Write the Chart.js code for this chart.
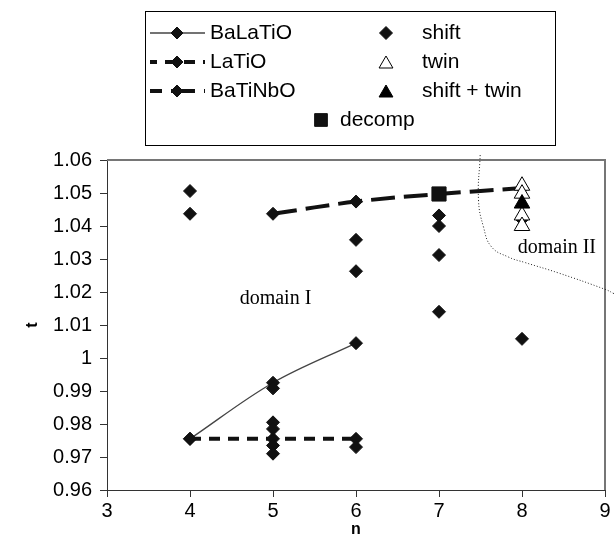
<!DOCTYPE html>
<html><head><meta charset="utf-8">
<script src="https://cdn.jsdelivr.net/npm/chart.js@4.4.1/dist/chart.umd.min.js"></script>
<style>html,body{margin:0;padding:0;background:#fff;}#wrap{width:616px;height:536px;}</style>
</head><body><div id="wrap"><canvas id="c" width="616" height="536"></canvas></div>
<script>
// ---- data (n = x, t = y) ----
const baLaTiO_n = [4, 5, 6];
const baLaTiO_t = [0.9755, 0.9925, 1.0045];
const laTiO_n = [4, 5, 6];
const laTiO_t = [0.9755, 0.9755, 0.9755];
const baTiNbO_n = [5, 6, 7, 8];
const baTiNbO_t = [1.0437, 1.0474, 1.0497, 1.0515];
const shift_n = [4, 4, 5, 5, 5, 5, 5, 6, 6, 6, 7, 7, 7, 7, 8, 8];
const shift_t = [1.0506, 1.0437, 0.9908, 0.9805, 0.9785, 0.9735, 0.9710, 1.0358, 1.0263, 0.9730, 1.0432, 1.0400, 1.0312, 1.0140, 1.0058, 1.042];
const twin_n = [8, 8, 8, 8];
const twin_t = [1.0522, 1.0498, 1.0432, 1.0400];
const shiftTwin_n = [8];
const shiftTwin_t = [1.0468];
const decomp_n = [7];
const decomp_t = [1.0497];
const boundary_n = [7.496, 7.476, 7.536, 7.632, 7.836, 8.04, 8.436, 9.012, 9.108];
const boundary_t = [1.0615, 1.0479, 1.0397, 1.0337, 1.0306, 1.0289, 1.0258, 1.0207, 1.0195];
const xTicks = [3, 4, 5, 6, 7, 8, 9];
const yTicks = [0.96, 0.97, 0.98, 0.99, 1.00, 1.01, 1.02, 1.03, 1.04, 1.05, 1.06];
const legendLines = ['BaLaTiO', 'LaTiO', 'BaTiNbO'];
const legendMarks = ['shift', 'twin', 'shift + twin'];
const legendExtra = ['decomp'];
const domainLabels = ['domain I', 'domain II'];
const domainLabel_n = [5.03, 8.42];
const domainLabel_t = [1.018, 1.0334];

const zip = (a, b) => a.map((v, i) => ({x: v, y: b[i]}));
const SANS = "'Liberation Sans', Arial, sans-serif";
const SERIF = "'Liberation Serif', 'Times New Roman', serif";
Chart.defaults.font.family = SANS;
Chart.defaults.color = '#000';

const framePlugin = {
  id: 'frame',
  beforeDatasetsDraw(chart) {
    const {ctx, chartArea: a} = chart;
    ctx.save();
    ctx.strokeStyle = '#767676'; ctx.lineWidth = 2;
    ctx.beginPath(); ctx.moveTo(a.left, a.top); ctx.lineTo(a.right, a.top); ctx.lineTo(a.right, a.bottom); ctx.stroke();
    ctx.restore();
  }
};

function marker(ctx, d, x, y, r) {
  ctx.save();
  ctx.setLineDash([]);
  ctx.fillStyle = d.pointBackgroundColor;
  ctx.strokeStyle = d.pointBorderColor;
  ctx.lineWidth = d.pointBorderWidth;
  Chart.helpers.drawPoint(ctx, {pointStyle: d.pointStyle, radius: r, rotation: 0, borderWidth: d.pointBorderWidth}, x, y);
  ctx.restore();
}

const legendPlugin = {
  id: 'boxLegend',
  afterDraw(chart) {
    const ctx = chart.ctx;
    const ds = chart.data.datasets;
    const find = l => ds.find(d => d.label === l);
    ctx.save();
    ctx.strokeStyle = '#000'; ctx.lineWidth = 1;
    ctx.strokeRect(145.5, 11.5, 410, 134);
    ctx.font = '21px ' + SANS; ctx.fillStyle = '#000';
    ctx.textBaseline = 'middle'; ctx.textAlign = 'left';
    const rows = [33, 62, 91, 120];
    const offs = [0, 4, 12];
    legendLines.forEach((lab, i) => {
      const d = find(lab), y = rows[i];
      ctx.save();
      ctx.strokeStyle = d.borderColor; ctx.lineWidth = d.borderWidth;
      ctx.setLineDash(d.borderDash || []); ctx.lineDashOffset = offs[i];
      ctx.beginPath(); ctx.moveTo(150, y); ctx.lineTo(205, y); ctx.stroke();
      ctx.restore();
      marker(ctx, d, 177, y, 6);
      ctx.fillStyle = '#000';
      ctx.fillText(lab, 210, y);
    });
    legendMarks.forEach((lab, i) => {
      const d = find(lab), y = rows[i];
      marker(ctx, d, 386, y + (d.pointStyle === 'triangle' ? 2 : 0), d.pointStyle === 'triangle' ? 8 : 6.5);
      ctx.fillStyle = '#000';
      ctx.fillText(lab, 422, y);
    });
    legendExtra.forEach((lab) => {
      const d = find(lab);
      marker(ctx, d, 321, rows[3], 9);
      ctx.fillStyle = '#000';
      ctx.fillText(lab, 340, rows[3]);
    });
    ctx.restore();
  }
};

const labelPlugin = {
  id: 'domains',
  afterDatasetsDraw(chart) {
    const {ctx, scales: {x, y}} = chart;
    ctx.save();
    ctx.font = '20px ' + SERIF; ctx.fillStyle = '#000';
    ctx.textAlign = 'center'; ctx.textBaseline = 'middle';
    domainLabels.forEach((t, i) => ctx.fillText(t, x.getPixelForValue(domainLabel_n[i]), y.getPixelForValue(domainLabel_t[i])));
    ctx.restore();
  }
};

const diamond = {pointStyle: 'rectRot', pointRadius: 6.5, pointBackgroundColor: '#111', pointBorderColor: '#111', pointBorderWidth: 1};

new Chart(document.getElementById('c'), {
  type: 'scatter',
  data: {
    datasets: [
      {label: 'boundary', data: zip(boundary_n, boundary_t), showLine: true, borderColor: '#222', borderWidth: 1, borderDash: [1, 2], pointRadius: 0, tension: 0.45, clip: false, order: 10},
      Object.assign({label: 'LaTiO', data: zip(laTiO_n, laTiO_t), showLine: true, borderColor: '#111', borderWidth: 4, borderDash: [11, 8], tension: 0, order: 9}, diamond),
      Object.assign({label: 'BaLaTiO', data: zip(baLaTiO_n, baLaTiO_t), showLine: true, borderColor: '#444', borderWidth: 1.3, tension: 0.35, order: 8}, diamond),
      Object.assign({label: 'BaTiNbO', data: zip(baTiNbO_n, baTiNbO_t), showLine: true, borderColor: '#111', borderWidth: 4, borderDash: [24, 9], tension: 0.35, order: 7}, diamond),
      Object.assign({label: 'shift', data: zip(shift_n, shift_t), showLine: false, order: 6}, diamond),
      {label: 'decomp', data: zip(decomp_n, decomp_t), showLine: false, pointStyle: 'rect', pointRadius: 10, pointBackgroundColor: '#111', pointBorderColor: '#111', pointBorderWidth: 1, order: 5},
      {label: 'twin', data: zip(twin_n, twin_t), showLine: false, pointStyle: 'triangle', pointRadius: 9, pointBackgroundColor: '#fff', pointBorderColor: '#000', pointBorderWidth: 1, order: 4},
      {label: 'shift + twin', data: zip(shiftTwin_n, shiftTwin_t), showLine: false, pointStyle: 'triangle', pointRadius: 9, pointBackgroundColor: '#000', pointBorderColor: '#000', pointBorderWidth: 1, order: 3}
    ]
  },
  options: {
    responsive: false, animation: false, events: [],
    layout: {padding: {top: 160, right: 8, left: 0, bottom: 0}},
    plugins: {legend: {display: false}, tooltip: {enabled: false}},
    scales: {
      x: {
        type: 'linear', min: 3, max: 9,
        afterBuildTicks: s => { s.ticks = xTicks.map(v => ({value: v})); },
        afterFit: s => { s.height = 46; },
        grid: {drawOnChartArea: false, drawTicks: true, tickLength: 7, color: '#333', lineWidth: 1},
        border: {color: '#333', width: 1},
        ticks: {font: {size: 20}, padding: 2, color: '#000', maxRotation: 0, callback: v => String(v)},
        title: {display: true, text: 'n', font: {size: 16, weight: 'bold', lineHeight: 1}, padding: {top: 0, bottom: -2}, color: '#000'}
      },
      y: {
        type: 'linear', min: 0.96, max: 1.06,
        afterBuildTicks: s => { s.ticks = yTicks.map(v => ({value: v})); },
        afterFit: s => { s.width = 107; },
        grid: {drawOnChartArea: false, drawTicks: true, tickLength: 7, color: '#333', lineWidth: 1},
        border: {color: '#333', width: 1},
        ticks: {font: {size: 20}, padding: 8, color: '#000', callback: v => String(+Number(v).toFixed(2))},
        title: {display: true, text: 't', font: {size: 16, weight: 'bold', lineHeight: 1}, padding: {top: 25, bottom: 0}, color: '#000'}
      }
    }
  },
  plugins: [framePlugin, labelPlugin, legendPlugin]
});
</script></body></html>
